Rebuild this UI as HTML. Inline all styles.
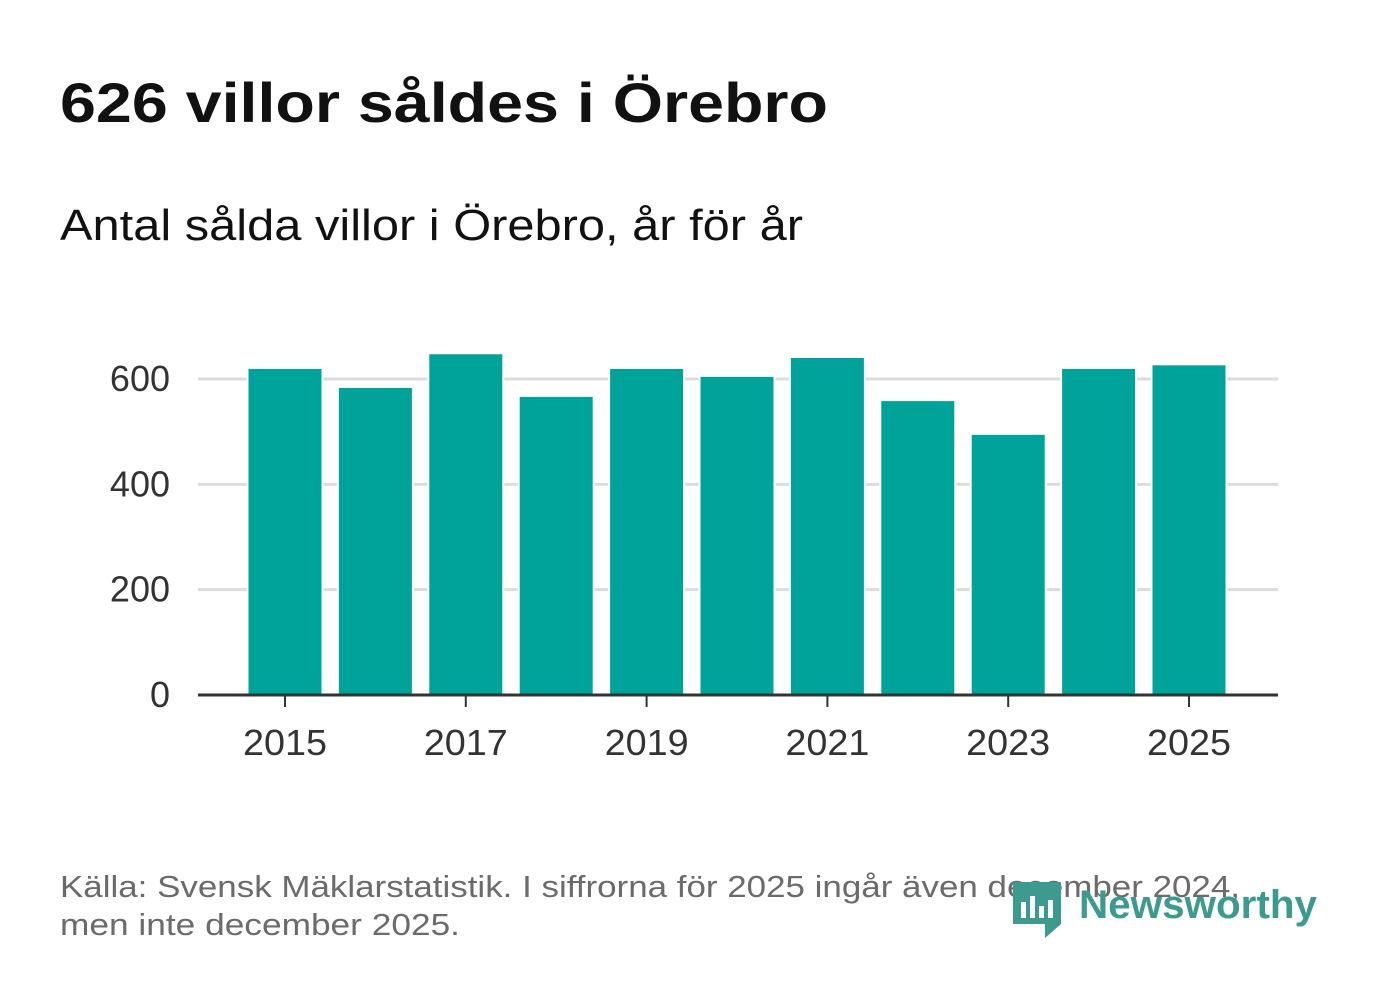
<!DOCTYPE html>
<html><head><meta charset="utf-8"><style>
body{margin:0;background:#fff;width:1382px;height:999px;overflow:hidden;font-family:"Liberation Sans","DejaVu Sans",sans-serif}
</style></head><body>
<svg width="1382" height="999" viewBox="0 0 1382 999" xmlns="http://www.w3.org/2000/svg" font-family="Liberation Sans, DejaVu Sans, sans-serif">
<text x="60" y="122" font-size="56" font-weight="bold" fill="#111" textLength="768" lengthAdjust="spacingAndGlyphs">626 villor såldes i Örebro</text>
<text x="60" y="240" font-size="44" fill="#111" textLength="743" lengthAdjust="spacingAndGlyphs">Antal sålda villor i Örebro, år för år</text>
<g id="grid"></g><g id="bars"></g><g id="axes"></g>
<text x="60" y="897" font-size="31" fill="#6b6b6b" textLength="1180" lengthAdjust="spacingAndGlyphs">Källa: Svensk Mäklarstatistik. I siffrorna för 2025 ingår även december 2024,</text>
<text x="60" y="935" font-size="31" fill="#6b6b6b" textLength="400" lengthAdjust="spacingAndGlyphs">men inte december 2025.</text>
<g>
<path d="M1013 882 h48 v42 l-16 14 v-14 h-32 z" fill="#3d9a8f"/>
<rect x="1021" y="902" width="5" height="16" fill="#fff"/><rect x="1030" y="896" width="5" height="22" fill="#fff"/><rect x="1039" y="906" width="5" height="12" fill="#fff"/><rect x="1048" y="900" width="5" height="18" fill="#fff"/>
<text x="1079" y="918" font-size="40" font-weight="bold" fill="#3d9a8f" textLength="238" lengthAdjust="spacingAndGlyphs">Newsworthy</text>
</g>
</svg>
<script>
const years=[2015,2016,2017,2018,2019,2020,2021,2022,2023,2024,2025];
const values=[619,583,647,566,619,604,640,558,494,619,626];
const yTicks=[0,200,400,600];
const xTickYears=[2015,2017,2019,2021,2023,2025];
const NS="http://www.w3.org/2000/svg";
const x0=198,x1=1278,y0=695,yMaxPx=379;
const yScale=v=>y0-(y0-yMaxPx)*v/600;
const step=(1189-285)/10;
const xScale=yr=>285+(yr-2015)*step;
const bw=73;
function mk(tag,attrs,parent){const e=document.createElementNS(NS,tag);for(const k in attrs)e.setAttribute(k,attrs[k]);document.getElementById(parent).appendChild(e);return e;}
yTicks.forEach(t=>{
 if(t>0){const l=mk('line',{x1:x0,x2:x1,y1:yScale(t),y2:yScale(t),stroke:'#dcdcdc','stroke-width':3},'grid');
 
 }
 const tx=mk('text',{x:170,y:yScale(t)+12,'font-size':36,fill:'#333','text-anchor':'end'},'axes');tx.textContent=t;
 
 
});
years.forEach((yr,i)=>{
 const r=mk('rect',{x:xScale(yr)-bw/2,y:yScale(values[i]),width:bw,height:y0-yScale(values[i]),fill:'#00a39a',stroke:'#fff','stroke-width':4,'paint-order':'stroke'},'bars');
 
 
});
const ax=mk('line',{x1:x0,x2:x1,y1:y0,y2:y0,stroke:'#333','stroke-width':3},'axes');


xTickYears.forEach(yr=>{
 const tk=mk('line',{x1:xScale(yr),x2:xScale(yr),y1:y0,y2:y0+12,stroke:'#333','stroke-width':2},'axes');
 
 
 const tx=mk('text',{x:xScale(yr),y:755,'font-size':36,fill:'#333','text-anchor':'middle',textLength:84,lengthAdjust:'spacingAndGlyphs'},'axes');tx.textContent=yr;
 
 
});
</script>
</body></html>
